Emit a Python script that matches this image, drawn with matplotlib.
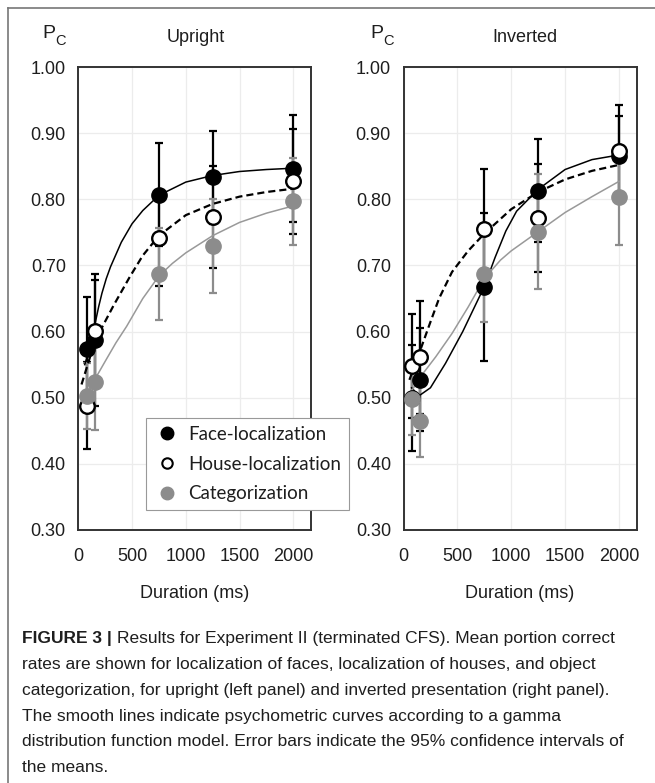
import matplotlib
matplotlib.use('Agg')
import matplotlib.pyplot as plt
from matplotlib.lines import Line2D

# ---- data ----
# presentation durations (ms)
dur_up = [80, 155, 750, 1250, 2000]
dur_inv = [75, 150, 750, 1250, 2000]

# Upright: mean Pc and 95% CI half-widths
up_face = [0.573, 0.587, 0.807, 0.833, 0.846]
up_face_ci = [0.080, 0.100, 0.078, 0.070, 0.081]
up_house = [0.488, 0.601, 0.741, 0.773, 0.827]
up_house_ci = [0.066, 0.077, 0.072, 0.077, 0.080]
up_cat = [0.503, 0.524, 0.687, 0.730, 0.797]
up_cat_ci = [0.050, 0.073, 0.069, 0.071, 0.066]

# Inverted
inv_face = [0.500, 0.527, 0.668, 0.813, 0.866]
inv_face_ci = [0.080, 0.078, 0.112, 0.078, 0.060]
inv_house = [0.548, 0.561, 0.755, 0.772, 0.873]
inv_house_ci = [0.078, 0.085, 0.091, 0.082, 0.070]
inv_cat = [0.498, 0.465, 0.687, 0.751, 0.803]
inv_cat_ci = [0.054, 0.054, 0.073, 0.087, 0.072]

# fitted psychometric curves
up_face_fit_x = [60, 100, 130, 160, 190, 220, 260, 300, 400, 500, 600, 750, 1000, 1250, 1500, 1750, 2000]
up_face_fit = [0.550, 0.572, 0.592, 0.615, 0.638, 0.658, 0.680, 0.698, 0.735, 0.763, 0.783, 0.806, 0.826, 0.836, 0.842, 0.845, 0.847]
up_house_fit_x = [30, 110, 200, 330, 480, 600, 750, 1000, 1250, 1500, 1750, 2000]
up_house_fit = [0.520, 0.562, 0.600, 0.640, 0.683, 0.715, 0.745, 0.776, 0.793, 0.804, 0.811, 0.816]
up_cat_fit_x = [50, 100, 155, 250, 350, 450, 600, 750, 875, 1000, 1250, 1500, 1750, 2000]
up_cat_fit = [0.495, 0.512, 0.528, 0.555, 0.583, 0.608, 0.650, 0.684, 0.703, 0.719, 0.745, 0.765, 0.779, 0.790]

inv_face_fit_x = [75, 145, 250, 390, 550, 650, 750, 850, 950, 1050, 1250, 1500, 1750, 2000]
inv_face_fit = [0.515, 0.503, 0.515, 0.552, 0.600, 0.634, 0.668, 0.712, 0.752, 0.782, 0.815, 0.845, 0.860, 0.867]
inv_house_fit_x = [55, 145, 240, 330, 450, 600, 750, 1000, 1250, 1500, 1750, 2000]
inv_house_fit = [0.527, 0.567, 0.610, 0.650, 0.690, 0.722, 0.748, 0.785, 0.811, 0.830, 0.843, 0.852]
inv_cat_fit_x = [75, 150, 300, 450, 600, 750, 900, 1000, 1250, 1500, 1750, 2000]
inv_cat_fit = [0.510, 0.530, 0.562, 0.597, 0.637, 0.680, 0.708, 0.722, 0.751, 0.780, 0.804, 0.827]

yticks = [0.30, 0.40, 0.50, 0.60, 0.70, 0.80, 0.90, 1.00]
xticks = [0, 500, 1000, 1500, 2000]
labels = ['Face-localization', 'House-localization', 'Categorization']

GRAY = '#8c8c8c'
INK = '#1e1e1e'
NUM_FONT = 'Liberation Sans'
FS = 13

W, H = 655, 783
fig = plt.figure(figsize=(W / 100, H / 100), dpi=100)


def px_axes(x0, y0, x1, y1):
    return fig.add_axes([x0 / W, 1 - y1 / H, (x1 - x0) / W, (y1 - y0) / H])


def draw_panel(ax, x, face, face_ci, house, house_ci, cat, cat_ci, fits, title, title_x):
    eb = dict(fmt='none', elinewidth=1.6, capsize=3, capthick=1.6)
    ax.errorbar(x, face, yerr=face_ci, ecolor='black', zorder=2, **eb)
    ax.errorbar(x, house, yerr=house_ci, ecolor='black', zorder=2, **eb)
    ax.errorbar(x, cat, yerr=cat_ci, ecolor=GRAY, zorder=2.1, **eb)

    (fx, fy), (hx, hy), (cx, cy) = fits
    ax.plot(fx, fy, color='black', lw=1.1, zorder=3)
    ax.plot(hx, hy, color='black', lw=1.6, ls=(0, (3.2, 1.8)), zorder=3)
    ax.plot(cx, cy, color='#999999', lw=1.1, zorder=3)

    ax.plot(x, face, 'o', ms=11, color='black', zorder=4)
    ax.plot(x, house, 'o', ms=10.5, mfc='white', mec='black', mew=1.7, zorder=4.1)
    ax.plot(x, cat, 'o', ms=11, color=GRAY, zorder=4.2)

    ax.set_xlim(0, 2165)
    ax.set_ylim(0.30, 1.00)
    ax.set_xticks(xticks)
    ax.set_yticks(yticks)
    ax.set_yticklabels([f'{v:.2f}' for v in yticks])
    ax.grid(True, color='#ececec', lw=0.9)
    ax.set_axisbelow(True)
    ax.tick_params(length=0, labelsize=FS, colors=INK)
    ax.tick_params(axis='y', pad=9)
    ax.tick_params(axis='x', pad=13)
    for lab in ax.get_xticklabels() + ax.get_yticklabels():
        lab.set_fontfamily(NUM_FONT)
    for s in ax.spines.values():
        s.set_linewidth(1.4)
        s.set_color('#333333')
    ax.set_xlabel('Duration (ms)', fontsize=FS, family=NUM_FONT, color=INK, labelpad=14)
    fig.text(title_x / W, 1 - 37 / H, title, ha='center', va='center',
             fontsize=FS, family=NUM_FONT, color=INK)


ax1 = px_axes(78.3, 67, 311, 530)
ax2 = px_axes(403.5, 67, 636.7, 530)

draw_panel(ax1, dur_up, up_face, up_face_ci, up_house, up_house_ci, up_cat, up_cat_ci,
           [(up_face_fit_x, up_face_fit), (up_house_fit_x, up_house_fit), (up_cat_fit_x, up_cat_fit)],
           'Upright', 196)
draw_panel(ax2, dur_inv, inv_face, inv_face_ci, inv_house, inv_house_ci, inv_cat, inv_cat_ci,
           [(inv_face_fit_x, inv_face_fit), (inv_house_fit_x, inv_house_fit), (inv_cat_fit_x, inv_cat_fit)],
           'Inverted', 525)

# P_C labels
for px in (49, 377):
    fig.text(px / W, 1 - 33 / H, 'P', ha='center', va='center', fontsize=14, family=NUM_FONT, color=INK)
    fig.text((px + 12) / W, 1 - 41 / H, 'C', ha='center', va='center', fontsize=10.5, family=NUM_FONT, color=INK)

# legend
handles = [
    Line2D([], [], ls='none', marker='o', ms=9, color='black'),
    Line2D([], [], ls='none', marker='o', ms=7.5, mfc='white', mec='black', mew=1.5),
    Line2D([], [], ls='none', marker='o', ms=9, color=GRAY),
]
leg = fig.legend(handles, labels, loc='upper left', bbox_to_anchor=(146 / W, 1 - 418 / H),
                 borderaxespad=0, frameon=True, fancybox=False, edgecolor='#999999',
                 framealpha=1, prop={'family': 'Lato', 'size': 13.5}, handletextpad=0.43,
                 handlelength=1.4, labelspacing=0.68, borderpad=0.42)
leg.get_frame().set_linewidth(0.8)
for t in leg.get_texts():
    t.set_color(INK)

# outer frame (top and left edge of the figure box)
fig.add_artist(Line2D([8 / W, 8 / W], [0, 1 - 8 / H], color='#777777', lw=1.2))
fig.add_artist(Line2D([8 / W, 1], [1 - 8 / H, 1 - 8 / H], color='#777777', lw=1.2))

# caption
cap_font = ['Liberation Sans']
cap_lines = [
    'Results for Experiment II (terminated CFS). Mean portion correct',
    'rates are shown for localization of faces, localization of houses, and object',
    'categorization, for upright (left panel) and inverted presentation (right panel).',
    'The smooth lines indicate psychometric curves according to a gamma',
    'distribution function model. Error bars indicate the 95% confidence intervals of',
    'the means.',
]
cap_y = [638, 664, 690, 716, 742, 768]
fig.text(22 / W, 1 - cap_y[0] / H, 'FIGURE 3 |', ha='left', va='center', fontsize=12.5,
         family=cap_font, weight='bold', color=INK)
for i, (line, yy) in enumerate(zip(cap_lines, cap_y)):
    x0 = 117 if i == 0 else 22
    fig.text(x0 / W, 1 - yy / H, line, ha='left', va='center', fontsize=12.5,
             family=cap_font, color=INK)

fig.savefig('out.png', dpi=100)
